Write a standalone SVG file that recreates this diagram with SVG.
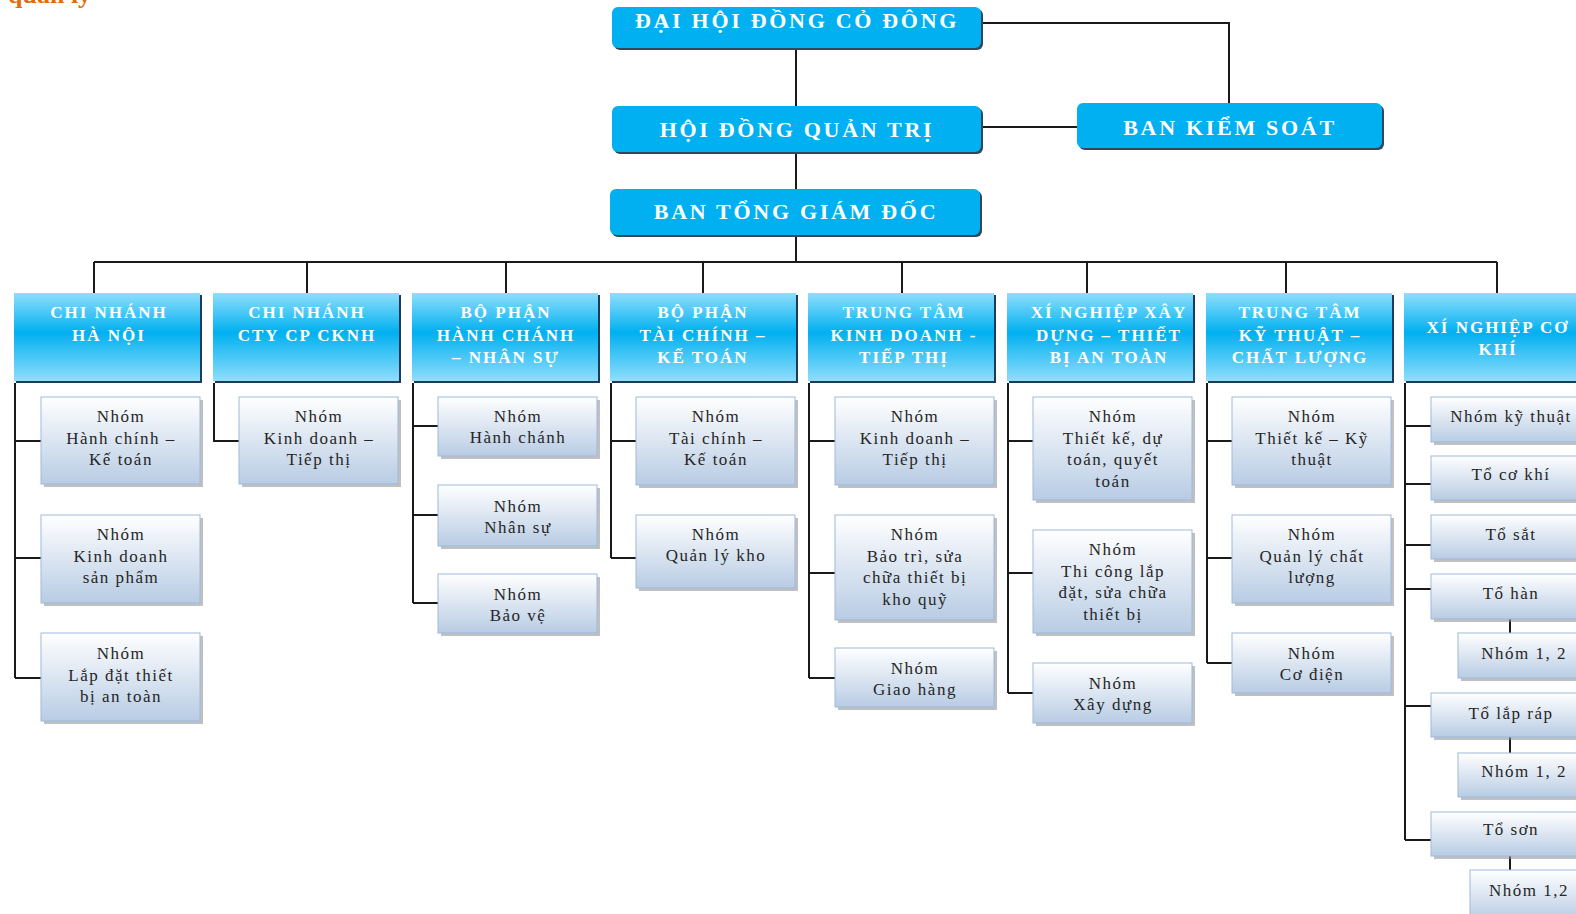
<svg xmlns="http://www.w3.org/2000/svg" width="1576" height="914" viewBox="0 0 1576 914">
<style>
.tb{fill:#00b0f0}
.tsh{fill:#34465a}
.tt{font-family:"Liberation Serif","DejaVu Serif",serif;font-weight:bold;font-size:22px;fill:#fff;letter-spacing:2.7px;text-anchor:middle}
.hd{fill:url(#gH)}
.hsh{fill:#1f3a5a}
.ht{font-family:"Liberation Serif","DejaVu Serif",serif;font-weight:bold;font-size:17px;fill:#fff;letter-spacing:2px;text-anchor:middle}
.bx{fill:url(#gB);stroke:#9db9db;stroke-width:1}
.bsh{fill:#8c8c8c;opacity:.55}
.bt{font-family:"Liberation Serif","DejaVu Serif",serif;font-size:17px;fill:#262626;letter-spacing:1.5px;text-anchor:middle}
.ln{stroke:#1a1a1a;stroke-width:2;fill:none}
.ttl{font-family:"Liberation Serif","DejaVu Serif",serif;font-weight:bold;font-size:26px;fill:#e36c09}
</style>
<defs>
<linearGradient id="gH" x1="0" y1="0" x2="0" y2="1">
<stop offset="0" stop-color="#8fdefc"/>
<stop offset="0.45" stop-color="#00b0f0"/>
<stop offset="1" stop-color="#8fdefc"/>
</linearGradient>
<linearGradient id="gB" x1="0" y1="0" x2="0" y2="1">
<stop offset="0" stop-color="#ffffff"/>
<stop offset="1" stop-color="#b8cce4"/>
</linearGradient>
</defs>
<rect width="1576" height="914" fill="#fff"/>
<text class="ttl" x="8" y="3">quản lý</text>

<g id="connectors">
<path class="ln" d="M796 47V106"/>
<path class="ln" d="M981 23H1229V103"/>
<path class="ln" d="M981 127H1077"/>
<path class="ln" d="M796 152V189"/>
<path class="ln" d="M796 235V262"/>
<path class="ln" d="M94 262H1497"/>
<path class="ln" d="M94 262V293M307 262V293M506 262V293M703 262V293M902 262V293M1087 262V293M1286 262V293M1497 262V293"/>
<path class="ln" d="M15 383V678M15 441H41M15 558H41M15 678H41"/>
<path class="ln" d="M214 383V441H239"/>
<path class="ln" d="M413 383V603M413 426H438M413 515H438M413 603H438"/>
<path class="ln" d="M611 383V558M611 441H636M611 558H636"/>
<path class="ln" d="M809 383V678M809 441H835M809 573H835M809 678H835"/>
<path class="ln" d="M1008 383V693M1008 441H1033M1008 573H1033M1008 693H1033"/>
<path class="ln" d="M1207 383V663M1207 441H1232M1207 558H1232M1207 663H1232"/>
<path class="ln" d="M1405 383V840M1405 426H1431M1405 484H1431M1405 545H1431M1405 589H1431M1405 706H1431M1405 840H1431"/>
<path class="ln" d="M1510 619V633M1510 737V753M1510 856V870"/>
</g>

<g id="dhdcd"><rect class="tsh" x="614" y="9" width="369" height="41" rx="6"/><rect class="tb" x="612" y="7" width="369" height="41" rx="6"/><text class="tt" x="797" y="28">ĐẠI HỘI ĐỒNG  CỎ ĐÔNG</text></g>
<g id="hdqt"><rect class="tsh" x="614" y="108" width="369" height="46" rx="6"/><rect class="tb" x="612" y="106" width="369" height="46" rx="6"/><text class="tt" x="797" y="137">HỘI ĐỒNG QUẢN TRỊ</text></g>
<g id="bks"><rect class="tsh" x="1079" y="105" width="305" height="45" rx="6"/><rect class="tb" x="1077" y="103" width="305" height="45" rx="6"/><text class="tt" x="1230" y="135">BAN KIỂM SOÁT</text></g>
<g id="btgd"><rect class="tsh" x="612" y="191" width="370" height="46" rx="6"/><rect class="tb" x="610" y="189" width="370" height="46" rx="6"/><text class="tt" x="796" y="219">BAN TỔNG GIÁM ĐỐC</text></g>

<g id="h1"><rect class="hsh" x="16" y="295" width="186" height="88"/><rect class="hd" x="14" y="293" width="186" height="88"/><text class="ht" x="109" y="318">CHI NHÁNH</text><text class="ht" x="109" y="341">HÀ NỘI</text></g>
<g id="h2"><rect class="hsh" x="215" y="295" width="186" height="88"/><rect class="hd" x="213" y="293" width="186" height="88"/><text class="ht" x="307" y="318">CHI NHÁNH</text><text class="ht" x="307" y="341">CTY CP CKNH</text></g>
<g id="h3"><rect class="hsh" x="414" y="295" width="186" height="88"/><rect class="hd" x="412" y="293" width="186" height="88"/><text class="ht" x="506" y="318">BỘ PHẬN</text><text class="ht" x="506" y="341">HÀNH CHÁNH</text><text class="ht" x="506" y="363">– NHÂN SỰ</text></g>
<g id="h4"><rect class="hsh" x="612" y="295" width="186" height="88"/><rect class="hd" x="610" y="293" width="186" height="88"/><text class="ht" x="703" y="318">BỘ PHẬN</text><text class="ht" x="703" y="341">TÀI CHÍNH –</text><text class="ht" x="703" y="363">KẾ TOÁN</text></g>
<g id="h5"><rect class="hsh" x="810" y="295" width="186" height="88"/><rect class="hd" x="808" y="293" width="186" height="88"/><text class="ht" x="904" y="318">TRUNG TÂM</text><text class="ht" x="904" y="341">KINH DOANH  -</text><text class="ht" x="904" y="363">TIẾP THỊ</text></g>
<g id="h6"><rect class="hsh" x="1009" y="295" width="186" height="88"/><rect class="hd" x="1007" y="293" width="186" height="88"/><text class="ht" x="1109" y="318">XÍ NGHIỆP  XÂY</text><text class="ht" x="1109" y="341">DỰNG – THIẾT</text><text class="ht" x="1109" y="363">BỊ AN TOÀN</text></g>
<g id="h7"><rect class="hsh" x="1208" y="295" width="186" height="88"/><rect class="hd" x="1206" y="293" width="186" height="88"/><text class="ht" x="1300" y="318">TRUNG TÂM</text><text class="ht" x="1300" y="341">KỸ THUẬT –</text><text class="ht" x="1300" y="363">CHẤT LƯỢNG</text></g>
<g id="h8"><rect class="hsh" x="1406" y="295" width="186" height="88"/><rect class="hd" x="1404" y="293" width="186" height="88"/><text class="ht" x="1498" y="333">XÍ NGHIỆP  CƠ</text><text class="ht" x="1498" y="355">KHÍ</text></g>

<g id="c1a"><rect class="bsh" x="44" y="400" width="159" height="87"/><rect class="bx" x="41" y="397" width="159" height="87"/><text class="bt" x="121" y="422">Nhóm</text><text class="bt" x="121" y="443.5">Hành chính –</text><text class="bt" x="121" y="465">Kế toán</text></g>
<g id="c1b"><rect class="bsh" x="44" y="518" width="159" height="88"/><rect class="bx" x="41" y="515" width="159" height="88"/><text class="bt" x="121" y="540">Nhóm</text><text class="bt" x="121" y="561.5">Kinh doanh</text><text class="bt" x="121" y="583">sản phẩm</text></g>
<g id="c1c"><rect class="bsh" x="44" y="636" width="159" height="88"/><rect class="bx" x="41" y="633" width="159" height="88"/><text class="bt" x="121" y="659">Nhóm</text><text class="bt" x="121" y="680.5">Lắp đặt thiết</text><text class="bt" x="121" y="702">bị an toàn</text></g>

<g id="c2a"><rect class="bsh" x="242" y="400" width="159" height="87"/><rect class="bx" x="239" y="397" width="159" height="87"/><text class="bt" x="319" y="422">Nhóm</text><text class="bt" x="319" y="443.5">Kinh doanh –</text><text class="bt" x="319" y="465">Tiếp thị</text></g>

<g id="c3a"><rect class="bsh" x="441" y="400" width="159" height="59"/><rect class="bx" x="438" y="397" width="159" height="59"/><text class="bt" x="518" y="422">Nhóm</text><text class="bt" x="518" y="443">Hành chánh</text></g>
<g id="c3b"><rect class="bsh" x="441" y="488" width="159" height="61"/><rect class="bx" x="438" y="485" width="159" height="61"/><text class="bt" x="518" y="512">Nhóm</text><text class="bt" x="518" y="533">Nhân sự</text></g>
<g id="c3c"><rect class="bsh" x="441" y="577" width="159" height="59"/><rect class="bx" x="438" y="574" width="159" height="59"/><text class="bt" x="518" y="600">Nhóm</text><text class="bt" x="518" y="621">Bảo vệ</text></g>

<g id="c4a"><rect class="bsh" x="639" y="400" width="159" height="88"/><rect class="bx" x="636" y="397" width="159" height="88"/><text class="bt" x="716" y="422">Nhóm</text><text class="bt" x="716" y="443.5">Tài chính –</text><text class="bt" x="716" y="465">Kế toán</text></g>
<g id="c4b"><rect class="bsh" x="639" y="518" width="159" height="73"/><rect class="bx" x="636" y="515" width="159" height="73"/><text class="bt" x="716" y="540">Nhóm</text><text class="bt" x="716" y="561">Quản lý kho</text></g>

<g id="c5a"><rect class="bsh" x="838" y="400" width="159" height="88"/><rect class="bx" x="835" y="397" width="159" height="88"/><text class="bt" x="915" y="422">Nhóm</text><text class="bt" x="915" y="443.5">Kinh doanh –</text><text class="bt" x="915" y="465">Tiếp thị</text></g>
<g id="c5b"><rect class="bsh" x="838" y="518" width="159" height="105"/><rect class="bx" x="835" y="515" width="159" height="105"/><text class="bt" x="915" y="540">Nhóm</text><text class="bt" x="915" y="561.5">Bảo trì, sửa</text><text class="bt" x="915" y="583">chữa thiết bị</text><text class="bt" x="915" y="604.5">kho quỹ</text></g>
<g id="c5c"><rect class="bsh" x="838" y="651" width="159" height="59"/><rect class="bx" x="835" y="648" width="159" height="59"/><text class="bt" x="915" y="674">Nhóm</text><text class="bt" x="915" y="695">Giao hàng</text></g>

<g id="c6a"><rect class="bsh" x="1036" y="400" width="159" height="103"/><rect class="bx" x="1033" y="397" width="159" height="103"/><text class="bt" x="1113" y="422">Nhóm</text><text class="bt" x="1113" y="443.5">Thiết kế, dự</text><text class="bt" x="1113" y="465">toán, quyết</text><text class="bt" x="1113" y="486.5">toán</text></g>
<g id="c6b"><rect class="bsh" x="1036" y="533" width="159" height="103"/><rect class="bx" x="1033" y="530" width="159" height="103"/><text class="bt" x="1113" y="555">Nhóm</text><text class="bt" x="1113" y="576.5">Thi công lắp</text><text class="bt" x="1113" y="598">đặt, sửa chữa</text><text class="bt" x="1113" y="619.5">thiết bị</text></g>
<g id="c6c"><rect class="bsh" x="1036" y="666" width="159" height="60"/><rect class="bx" x="1033" y="663" width="159" height="60"/><text class="bt" x="1113" y="689">Nhóm</text><text class="bt" x="1113" y="710">Xây dựng</text></g>

<g id="c7a"><rect class="bsh" x="1235" y="400" width="159" height="88"/><rect class="bx" x="1232" y="397" width="159" height="88"/><text class="bt" x="1312" y="422">Nhóm</text><text class="bt" x="1312" y="443.5">Thiết kế – Kỹ</text><text class="bt" x="1312" y="465">thuật</text></g>
<g id="c7b"><rect class="bsh" x="1235" y="518" width="159" height="88"/><rect class="bx" x="1232" y="515" width="159" height="88"/><text class="bt" x="1312" y="540">Nhóm</text><text class="bt" x="1312" y="561.5">Quản lý chất</text><text class="bt" x="1312" y="583">lượng</text></g>
<g id="c7c"><rect class="bsh" x="1235" y="636" width="159" height="60"/><rect class="bx" x="1232" y="633" width="159" height="60"/><text class="bt" x="1312" y="659">Nhóm</text><text class="bt" x="1312" y="680">Cơ điện</text></g>

<g id="c8a"><rect class="bsh" x="1434" y="400" width="159" height="45"/><rect class="bx" x="1431" y="397" width="159" height="45"/><text class="bt" x="1511" y="422">Nhóm kỹ thuật</text></g>
<g id="c8b"><rect class="bsh" x="1434" y="459" width="159" height="44"/><rect class="bx" x="1431" y="456" width="159" height="44"/><text class="bt" x="1511" y="480">Tổ cơ khí</text></g>
<g id="c8c"><rect class="bsh" x="1434" y="518" width="159" height="44"/><rect class="bx" x="1431" y="515" width="159" height="44"/><text class="bt" x="1511" y="540">Tổ sắt</text></g>
<g id="c8d"><rect class="bsh" x="1434" y="577" width="159" height="45"/><rect class="bx" x="1431" y="574" width="159" height="45"/><text class="bt" x="1511" y="599">Tổ hàn</text></g>
<g id="c8d1"><rect class="bsh" x="1461" y="636" width="159" height="45"/><rect class="bx" x="1458" y="633" width="159" height="45"/><text class="bt" x="1524" y="659">Nhóm 1, 2</text></g>
<g id="c8e"><rect class="bsh" x="1434" y="696" width="159" height="44"/><rect class="bx" x="1431" y="693" width="159" height="44"/><text class="bt" x="1511" y="719">Tổ lắp ráp</text></g>
<g id="c8e1"><rect class="bsh" x="1461" y="756" width="159" height="44"/><rect class="bx" x="1458" y="753" width="159" height="44"/><text class="bt" x="1524" y="777">Nhóm 1, 2</text></g>
<g id="c8f"><rect class="bsh" x="1434" y="815" width="159" height="44"/><rect class="bx" x="1431" y="812" width="159" height="44"/><text class="bt" x="1511" y="835">Tổ sơn</text></g>
<g id="c8f1"><rect class="bsh" x="1473" y="873" width="159" height="50"/><rect class="bx" x="1470" y="870" width="159" height="50"/><text class="bt" x="1529" y="896">Nhóm 1,2</text></g>
</svg>
